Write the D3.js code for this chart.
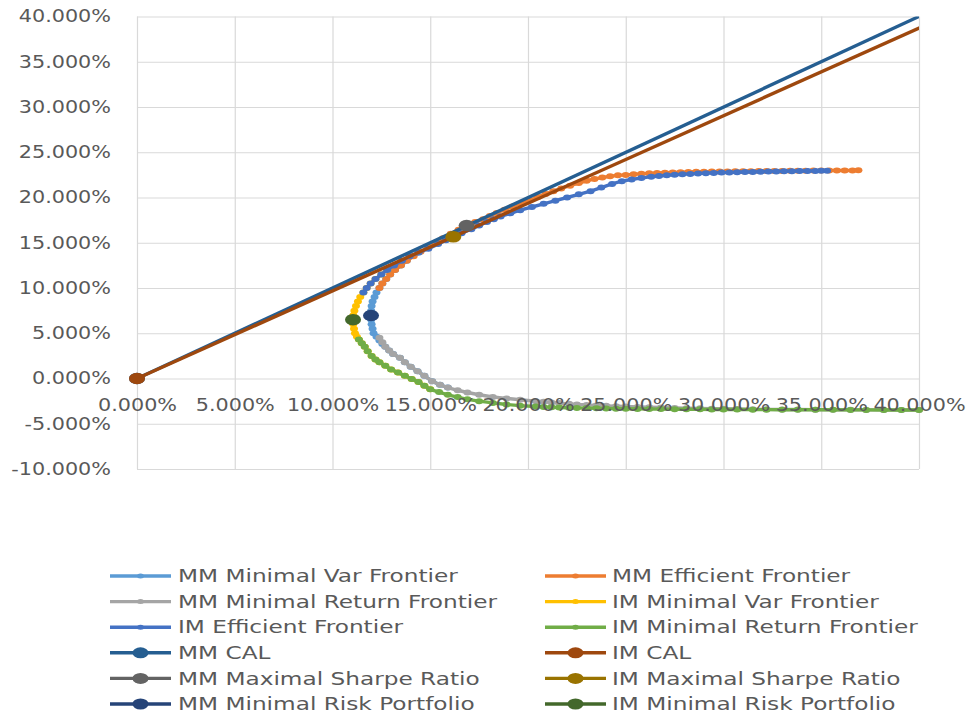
<!DOCTYPE html>
<html>
<head>
<meta charset="utf-8">
<script src="https://cdn.jsdelivr.net/npm/d3@7"></script>
<style>
body { margin: 0; background: #fff; }
text { font-family: 'DejaVu Sans', sans-serif; fill: #595959; }
</style>
</head>
<body>
<svg id="chart" width="974" height="715"></svg>
<script>
// values are [std dev %, return %]
var mmMinVar = [[13.8,13],[13.5,12.5],[13.2,12],[12.95,11.5],[12.75,11],[12.55,10.5],[12.4,10],[12.25,9.5],[12.15,9],[12.05,8.5],[12.0,8],[11.98,7.5],[11.97,7],[11.98,6.5],[12.0,6],[12.05,5.5],[12.1,5],[12.25,4.6],[12.4,4.2],[12.55,3.8],[12.7,3.5],[12.9,3.1],[13.1,2.7],[13.45,2.3],[13.7,1.8],[14.0,1.3],[14.35,0.8],[14.7,0.3],[15.1,-0.3],[15.5,-0.7],[15.9,-1.0]];
var mmEfficient = [[12.4,10],[12.55,10.5],[12.75,11],[12.95,11.5],[13.2,12],[13.5,12.5],[13.8,13],[14.15,13.5],[14.5,14],[14.9,14.5],[15.3,15],[15.65,15.5],[16.05,16],[16.45,16.45],[16.86,16.9],[17.3,17.3],[17.7,17.6],[18.05,17.95],[18.4,18.3],[18.8,18.65],[19.2,19.0],[19.65,19.35],[20.1,19.7],[20.5,20.05],[20.9,20.4],[21.3,20.7],[21.7,21.0],[22.15,21.3],[22.6,21.6],[23.0,21.85],[23.4,22.05],[23.8,22.2],[24.2,22.35],[24.6,22.45],[25.0,22.5],[25.4,22.56],[25.8,22.62],[26.2,22.67],[26.6,22.71],[27.0,22.74],[27.4,22.77],[27.8,22.8],[28.2,22.82],[28.6,22.84],[29.0,22.85],[29.4,22.86],[29.8,22.87],[30.2,22.88],[30.6,22.89],[31.0,22.9],[31.4,22.91],[31.8,22.92],[32.2,22.93],[32.6,22.94],[33.0,22.94],[33.4,22.95],[33.8,22.96],[34.2,22.96],[34.6,22.97],[35.0,22.97],[35.4,22.98],[35.8,22.98],[36.2,22.99],[36.6,22.99],[36.9,23.0]];
var mmMinReturn = [[12.4,4.5],[12.55,4.0],[12.7,3.5],[12.9,3.1],[13.1,2.7],[13.45,2.3],[13.7,1.8],[14.0,1.3],[14.35,0.8],[14.7,0.3],[15.1,-0.3],[15.5,-0.7],[15.9,-1.0],[16.4,-1.3],[16.9,-1.55],[17.5,-1.8],[18.2,-2.05],[18.9,-2.2],[19.6,-2.35],[20.4,-2.5],[20.8,-2.57],[21.2,-2.65],[21.6,-2.72],[22.1,-2.8],[22.5,-2.86],[23.0,-2.92],[23.5,-2.97],[24.0,-3.02],[24.5,-3.06],[25.0,-3.1],[25.6,-3.14],[26.2,-3.18],[26.8,-3.21],[27.5,-3.25],[28.1,-3.28],[28.8,-3.3],[29.4,-3.33],[30.0,-3.35],[30.7,-3.37],[31.5,-3.39],[32.2,-3.41],[33.0,-3.42],[33.8,-3.43],[34.7,-3.44],[35.6,-3.45],[36.5,-3.46],[37.3,-3.47],[38.2,-3.47],[39.1,-3.48],[40.0,-3.48]];
var imMinVar = [[12.8,12],[12.5,11.5],[12.2,11],[11.95,10.5],[11.75,10],[11.58,9.5],[11.42,9],[11.3,8.5],[11.2,8],[11.12,7.5],[11.07,7],[11.05,6.5],[11.06,6],[11.1,5.5],[11.15,5],[11.25,4.6],[11.35,4.3],[11.5,3.9],[11.65,3.5],[11.8,3.0],[12.0,2.5],[12.2,2.1],[12.4,1.8],[12.7,1.4],[13.0,1.0],[13.35,0.65],[13.7,0.3],[14.05,-0.05],[14.4,-0.4],[14.7,-0.8],[15.0,-1.2]];
var imEfficient = [[11.58,9.5],[11.75,10],[11.95,10.5],[12.2,11],[12.5,11.5],[12.8,12],[13.15,12.5],[13.55,13],[13.95,13.5],[14.4,13.9],[14.9,14.35],[15.4,14.85],[15.8,15.28],[16.18,15.66],[16.6,16.05],[17.1,16.5],[17.5,16.9],[17.9,17.3],[18.25,17.6],[18.6,17.9],[19.1,18.25],[19.6,18.6],[20.2,18.95],[20.8,19.3],[21.4,19.65],[22.0,20.0],[22.6,20.35],[23.2,20.7],[23.75,21.1],[24.3,21.5],[24.8,21.8],[25.3,22.0],[25.8,22.15],[26.3,22.3],[26.7,22.38],[27.1,22.45],[27.5,22.51],[27.9,22.56],[28.3,22.61],[28.7,22.65],[29.1,22.69],[29.5,22.72],[29.9,22.75],[30.3,22.77],[30.7,22.79],[31.1,22.81],[31.5,22.83],[31.9,22.85],[32.3,22.87],[32.7,22.88],[33.1,22.9],[33.5,22.91],[33.9,22.92],[34.3,22.93],[34.7,22.94],[35.0,22.95],[35.3,22.95]];
var imMinReturn = [[11.35,4.3],[11.5,3.9],[11.65,3.5],[11.8,3.0],[12.0,2.5],[12.2,2.1],[12.4,1.8],[12.7,1.4],[13.0,1.0],[13.35,0.65],[13.7,0.3],[14.05,-0.05],[14.4,-0.4],[14.7,-0.8],[15.0,-1.2],[15.45,-1.5],[15.9,-1.8],[16.4,-2.05],[16.9,-2.3],[17.5,-2.5],[18.2,-2.7],[18.9,-2.87],[19.6,-3.0],[20.4,-3.1],[20.8,-3.14],[21.2,-3.17],[21.6,-3.2],[22.1,-3.23],[22.5,-3.25],[23.0,-3.27],[23.5,-3.29],[24.0,-3.31],[24.5,-3.33],[25.0,-3.34],[25.6,-3.36],[26.2,-3.37],[26.8,-3.38],[27.5,-3.39],[28.1,-3.4],[28.8,-3.41],[29.4,-3.42],[30.0,-3.42],[30.7,-3.43],[31.5,-3.44],[32.2,-3.44],[33.0,-3.45],[33.8,-3.45],[34.7,-3.46],[35.6,-3.46],[36.5,-3.47],[37.3,-3.47],[38.2,-3.48],[39.1,-3.48],[40.0,-3.48]];
var mmCal = [[0,0],[45,45]];
var imCal = [[0,0],[45,43.56]];
var mmMaxSharpe = [[16.86,16.9]];
var imMaxSharpe = [[16.18,15.66]];
var mmMinRisk = [[11.97,6.96]];
var imMinRisk = [[11.05,6.5]];

var xTicks = [0,5,10,15,20,25,30,35,40];
var yTicks = [-10,-5,0,5,10,15,20,25,30,35,40];

var series = [
	{name: 'MM Minimal Var Frontier', data: mmMinVar, color: '#5B9BD5', big: false},
	{name: 'MM Efficient Frontier', data: mmEfficient, color: '#ED7D31', big: false},
	{name: 'MM Minimal Return Frontier', data: mmMinReturn, color: '#A5A5A5', big: false},
	{name: 'IM Minimal Var Frontier', data: imMinVar, color: '#FFC000', big: false},
	{name: 'IM Efficient Frontier', data: imEfficient, color: '#4472C4', big: false},
	{name: 'IM Minimal Return Frontier', data: imMinReturn, color: '#70AD47', big: false},
	{name: 'MM CAL', data: mmCal, color: '#255E91', big: true},
	{name: 'IM CAL', data: imCal, color: '#9E480E', big: true},
	{name: 'MM Maximal Sharpe Ratio', data: mmMaxSharpe, color: '#636363', big: true},
	{name: 'IM Maximal Sharpe Ratio', data: imMaxSharpe, color: '#997300', big: true},
	{name: 'MM Minimal Risk Portfolio', data: mmMinRisk, color: '#264478', big: true},
	{name: 'IM Minimal Risk Portfolio', data: imMinRisk, color: '#43682B', big: true}
];

var svg = d3.select('#chart');
var plotLeft = 137, plotRight = 919, plotTop = 16.5, plotBottom = 469;

var xscale = d3.scaleLinear().domain([0, 40]).range([plotLeft, plotRight]);
var yscale = d3.scaleLinear().domain([-10, 40]).range([plotBottom, plotTop]);
var fmt = d => d.toFixed(3) + '%';

// gridlines
svg.append('g')
	.attr('transform', 'translate(0,' + plotBottom + ')')
	.call(d3.axisBottom(xscale).tickValues(xTicks).tickSize(-(plotBottom - plotTop)).tickFormat(''))
	.call(g => g.select('.domain').remove())
	.selectAll('line').attr('stroke', '#d9d9d9').attr('stroke-width', 1.2);
svg.append('g')
	.attr('transform', 'translate(' + plotLeft + ',0)')
	.call(d3.axisLeft(yscale).tickValues(yTicks).tickSize(-(plotRight - plotLeft)).tickFormat(''))
	.call(g => g.select('.domain').remove())
	.selectAll('line').attr('stroke', '#d9d9d9').attr('stroke-width', 1.2);

// y labels
svg.append('g')
	.attr('transform', 'translate(111,0)')
	.call(d3.axisLeft(yscale).tickValues(yTicks).tickSize(0).tickPadding(0).tickFormat(fmt))
	.call(g => g.select('.domain').remove())
	.selectAll('text')
	.attr('font-size', 17).attr('fill', '#595959')
	.attr('transform', 'scale(1.22,1)');

svg.append('defs').append('clipPath').attr('id', 'plot-clip')
	.append('rect').attr('x', plotLeft).attr('y', plotTop)
	.attr('width', plotRight - plotLeft).attr('height', plotBottom - plotTop);

var line = d3.line()
	.x(d => xscale(d[0]))
	.y(d => yscale(d[1]));

series.forEach(function(s) {
	svg.append('path')
		.datum(s.data)
		.attr('d', line)
		.attr('fill', 'none')
		.attr('stroke', s.color)
		.attr('stroke-width', 3.4)
		.attr('clip-path', 'url(#plot-clip)');
	svg.append('g').selectAll('ellipse')
		.data(s.data.filter(d => d[0] <= 40 && d[1] <= 40))
		.enter().append('ellipse')
		.attr('cx', d => xscale(d[0]))
		.attr('cy', d => yscale(d[1]))
		.attr('rx', s.big ? 8 : 4)
		.attr('ry', s.big ? 5.8 : 3)
		.attr('fill', s.color);
});

// x labels sit on the zero line
svg.append('g')
	.attr('transform', 'translate(0,' + yscale(0) + ')')
	.call(d3.axisBottom(xscale).tickValues(xTicks).tickSize(0).tickPadding(20).tickFormat(fmt))
	.call(g => g.select('.domain').remove())
	.selectAll('text')
	.attr('font-size', 17).attr('fill', '#595959')
	.attr('transform', 'scale(1.22,1)');

// legend
var legend = svg.append('g');
series.forEach(function(s, i) {
	var col = i % 2, row = Math.floor(i / 2);
	var x0 = col == 0 ? 110 : 545;
	var cy = 576 + row * 25.6;
	var g = legend.append('g').attr('transform', 'translate(' + x0 + ',' + cy + ')');
	g.append('line')
		.attr('x1', 0).attr('x2', 61)
		.attr('stroke', s.color).attr('stroke-width', 3.4);
	g.append('ellipse')
		.attr('cx', 30.5)
		.attr('rx', s.big ? 8 : 3.5)
		.attr('ry', s.big ? 5.5 : 2.5)
		.attr('fill', s.color);
	g.append('text')
		.attr('transform', 'translate(' + (col == 0 ? 68 : 67) + ',6.2) scale(1.35,1)')
		.attr('font-size', 17.2)
		.text(s.name);
});
</script>
</body>
</html>
